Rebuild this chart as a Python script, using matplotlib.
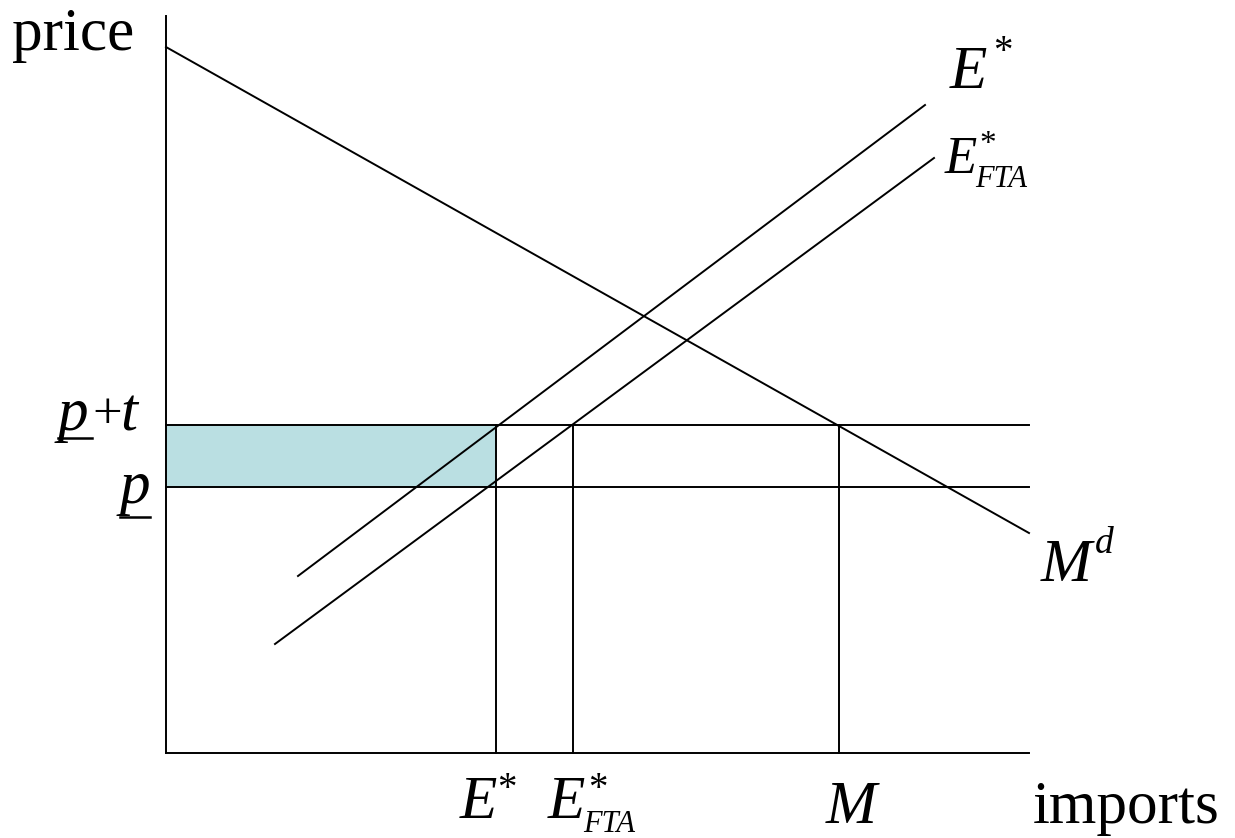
import matplotlib
matplotlib.use("Agg")
import matplotlib.pyplot as plt
from matplotlib.patches import Rectangle

# ---- data (economic diagram units) ----
axis_x_max = 863
axis_y_max = 737
md_x = [0, 863]
md_y = [706, 220]
es_x = [132, 759]
es_y = [177, 648]
fta_x = [109, 768]
fta_y = [109, 595]
price_pt = 328   # p + t
price_p = 266    # p
q_labels = ["E*", "E*_FTA", "M"]
q_values = [330, 407, 673]

SERIF = "Liberation Serif"
fill_color = "#badfe2"

fig = plt.figure(figsize=(12.35, 8.38), dpi=100)
ax = fig.add_axes([0, 0, 1, 1])
ax.set_xlim(-166, 1069)
ax.set_ylim(-85, 753)
ax.axis("off")

lw = 1.4
# axes
ax.plot([0, 0], [0, axis_y_max], color="black", lw=lw)
ax.plot([0, axis_x_max], [0, 0], color="black", lw=lw)

# shaded rectangle
ax.add_patch(Rectangle((0, price_p), q_values[0], price_pt - price_p,
                       facecolor=fill_color, edgecolor="none", zorder=1))

# price lines
ax.plot([0, axis_x_max], [price_pt, price_pt], color="black", lw=lw, zorder=2)
ax.plot([0, axis_x_max], [price_p, price_p], color="black", lw=lw, zorder=2)

# vertical drop lines
for q in q_values:
    ax.plot([q, q], [0, price_pt], color="black", lw=lw, zorder=2)

# curves
ax.plot(md_x, md_y, color="black", lw=lw, zorder=3)
ax.plot(es_x, es_y, color="black", lw=lw, zorder=3)
ax.plot(fta_x, fta_y, color="black", lw=lw, zorder=3)

def txt(x, y, s, size, italic=False):
    ax.text(x, y, s, fontsize=size, family=SERIF,
            style="italic" if italic else "normal",
            ha="left", va="baseline")

# axis labels
txt(-154, 703, "price", 44)
txt(867, -70, "imports", 44)

# price labels
txt(-108, 323, "p", 44, italic=True)
txt(-74, 325, "+", 38)
txt(-46, 323, "t", 44, italic=True)
ax.plot([-108, -74], [315, 315], color="black", lw=1.8)
txt(-46, 250, "p", 44, italic=True)
ax.plot([-46, -16], [236, 236], color="black", lw=1.8)

# curve labels
txt(784, 665, "E", 44, italic=True)
txt(827, 691, "*", 28)
txt(779, 580, "E", 38, italic=True)
txt(813, 600, "*", 24)
txt(809, 566, "FTA", 22, italic=True)
txt(875, 172, "M", 44, italic=True)
txt(929, 200, "d", 27, italic=True)

# quantity labels
txt(294, -65, "E", 44, italic=True)
txt(331, -46, "*", 28)
txt(382, -65, "E", 44, italic=True)
txt(422, -46, "*", 28)
txt(417, -79, "FTA", 22, italic=True)
txt(660, -70, "M", 44, italic=True)

fig.savefig("out.png", dpi=100)
